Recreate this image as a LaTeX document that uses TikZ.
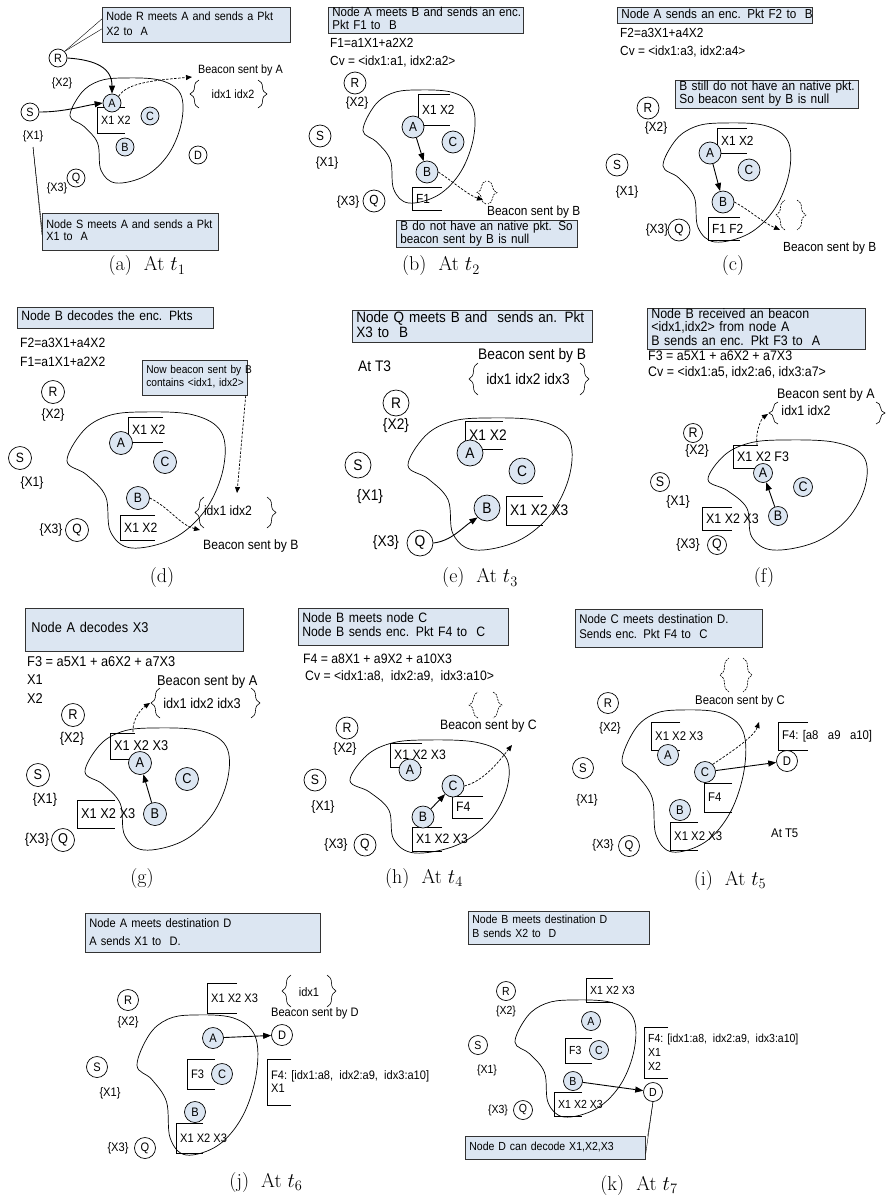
\documentclass[tikz,border=0pt]{standalone}
\usepackage{fontspec}
\newfontfamily\diag[FakeStretch=0.9]{Liberation Sans}
\usetikzlibrary{arrows.meta,decorations.pathreplacing}
\definecolor{noteblue}{RGB}{220,230,242}
\definecolor{nodeblue}{RGB}{220,230,242}
\newcommand\dfont[2]{\diag\fontsize{#1}{#2}\selectfont}
\newcommand\notelines[1]{\begin{tabular}{@{}l@{}}#1\end{tabular}}
% region of the network: x, y, width, height
\newcommand\regionblob[4]{%
  \draw[regionline, shift={(#1,#2)}, xscale=#3, yscale=#4]
    plot[smooth cycle, tension=0.6] coordinates {(0.45,0) (0.78,0.02) (0.96,0.15) (0.97,0.42) (0.86,0.72) (0.66,0.93) (0.40,1) (0.27,0.88) (0.24,0.62) (0.12,0.46) (0,0.36) (0.10,0.14) (0.25,0.03)};}
% packet list: name, x, y top, y bottom, arm, text
\newcommand\pktlist[6]{%
  \draw[bracketline] ({#2+#5},#3) -- (#2,#3) -- (#2,#4) -- ({#2+#5},#4);
  \node[lbl, anchor=west] (#1) at ({#2+4},{(#3+#4)/2}) {#6};}

\begin{document}
\begin{tikzpicture}[x=1pt, y=-1pt,
    pnode/.style={circle, draw, fill=white, inner sep=0pt, minimum size=18pt, line width=0.7pt},
    rnode/.style={pnode, fill=nodeblue},
    lbl/.style={inner sep=0pt, align=left},
    note/.style={draw=black!80, fill=noteblue, anchor=north west, inner xsep=4pt, inner ysep=0pt, align=left, line width=0.7pt},
    link/.style={-{Triangle[length=8pt,width=6pt]}, line width=0.9pt},
    beacon/.style={dash pattern=on 2.5pt off 1.5pt, -{Triangle[length=6pt,width=5pt]}, line width=0.7pt},
    curly/.style={decorate, decoration={brace, amplitude=9pt}, line width=0.6pt},
    emptycurly/.style={curly, dash pattern=on 2pt off 1pt},
    regionline/.style={line width=0.7pt},
    bracketline/.style={line width=0.7pt},
    subcap/.style={font=\fontsize{20}{22}\selectfont}
]
\useasboundingbox[fill=white] (0,0) rectangle (887,1200);

%% (a) At t1
\begin{scope}[font=\dfont{12}{14}, pnode/.append style={minimum size=18pt}]
\regionblob{70}{78}{115}{105}
\pktlist{aPkt}{97}{107}{133}{28}{X1 X2}
\node[pnode] (aR) at (58,58) {R};
\node[lbl] (aRset) at (62,83) {\{X2\}};
\node[pnode] (aS) at (30,112) {S};
\node[lbl] (aSset) at (33,136) {\{X1\}};
\node[rnode] (aA) at (112,103) {A};
\node[rnode] (aC) at (150,116) {C};
\node[rnode] (aB) at (125,147) {B};
\node[pnode] (aD) at (198,155) {D};
\node[pnode] (aQ) at (76,178) {Q};
\node[lbl] (aQset) at (57,188) {\{X3\}};
\node[note, text width=180pt, minimum height=35pt, font=\dfont{12}{15}] (aNote1) at (102,7) {\notelines{Node R meets A and sends a Pkt\\X2 to\ \ A}};
\node[note, text width=168pt, minimum height=37pt, font=\dfont{12}{12}] (aNote2) at (42,213) {\notelines{Node S meets A and sends a Pkt\\X1 to\ \ A}};
\node[lbl, anchor=west] (aBeacon) at (198,70) {Beacon sent by A};
\node[lbl] (aIdx) at (233,94) {idx1 idx2};
\draw[curly] (199,108) -- (199,80);
\draw[curly] (258,80) -- (258,108);
\coordinate (aTip) at (192,77);
\coordinate (aStem) at (33,147);
\draw[link] (aR.east) .. controls +(30,2) and +(0,-25) .. (aA.north);
\draw[link] (aS.east) .. controls +(25,0) and +(-20,3) .. (aA.west);
\draw[beacon] (aA.north east) .. controls +(8,-14) and +(-35,3) .. (aTip);
\draw (aR.north east) -- ([yshift=6pt]aNote1.west);
\draw (aR.north east) -- ([yshift=-4pt]aNote1.west);
\draw (aStem) -- ([yshift=3pt]aNote2.west);
\draw (aStem) -- ([yshift=-3pt]aNote2.west);
\end{scope}

%% (b) At t2
\begin{scope}[font=\dfont{13.2}{14}, pnode/.append style={minimum size=22pt}]
\regionblob{363}{90}{114}{113}
\pktlist{bPkt1}{418}{94}{125}{32}{X1 X2}
\pktlist{bPkt2}{412}{187}{210}{30}{F1}
\node[pnode] (bR) at (355,83) {R};
\node[lbl] (bRset) at (357,103) {\{X2\}};
\node[pnode] (bS) at (320,136) {S};
\node[lbl] (bSset) at (327,163) {\{X1\}};
\node[rnode] (bA) at (413,127) {A};
\node[rnode] (bC) at (453,142) {C};
\node[rnode] (bB) at (427,172) {B};
\node[pnode] (bQ) at (374,201) {Q};
\node[lbl] (bQset) at (348,202) {\{X3\}};
\node[note, text width=187pt, minimum height=26pt, font=\dfont{12.8}{13}] (bNote1) at (328,7) {\notelines{Node A meets B and sends an enc.\\Pkt F1 to\ \ B}};
\node[lbl, anchor=west] (bF1) at (330,43) {F1=a1X1+a2X2};
\node[lbl, anchor=west] (bCv) at (330,62) {Cv = <idx1:a1, idx2:a2>};
\node[note, text width=173pt, minimum height=27pt, font=\dfont{13}{11.5}] (bNote2) at (396,220) {\notelines{B do not have an native pkt. So\\beacon sent by B is null}};
\node[lbl, anchor=west] (bBeacon) at (487,212) {Beacon sent by B};
\draw[emptycurly] (486,204) -- (486,181);
\draw[emptycurly] (488,181) -- (488,204);
\coordinate (bTip) at (483,200);
\draw[link] (bA) -- (bB);
\draw[beacon] (bB.east) .. controls +(15,10) and +(-15,-5) .. (bTip);
\end{scope}

%% (c)
\begin{scope}[font=\dfont{13.2}{14}, pnode/.append style={minimum size=22pt}]
\regionblob{663}{123}{130}{119}
\pktlist{cPkt1}{717}{128}{153}{30}{X1 X2}
\pktlist{cPkt2}{708}{217}{240}{32}{F1 F2}
\node[pnode] (cR) at (648,108) {R};
\node[lbl] (cRset) at (656,128) {\{X2\}};
\node[pnode] (cS) at (617,165) {S};
\node[lbl] (cSset) at (627,192) {\{X1\}};
\node[rnode] (cA) at (710,153) {A};
\node[rnode] (cC) at (749,170) {C};
\node[rnode] (cB) at (723,202) {B};
\node[pnode] (cQ) at (679,230) {Q};
\node[lbl] (cQset) at (657,230) {\{X3\}};
\node[note, text width=187pt, minimum height=16pt, font=\dfont{13}{14}] (cNote1) at (617,7) {\notelines{Node A sends an enc. Pkt F2 to\ \ B}};
\node[lbl, anchor=west] (cF2) at (620,33) {F2=a3X1+a4X2};
\node[lbl, anchor=west] (cCv) at (620,52) {Cv = <idx1:a3, idx2:a4>};
\node[note, text width=175pt, minimum height=28pt, font=\dfont{13.2}{12}] (cNote2) at (675,80) {\notelines{B still do not have an native pkt.\\So beacon sent by B is null}};
\node[lbl, anchor=west] (cBeacon) at (783,248) {Beacon sent by B};
\draw[emptycurly] (785,230) -- (785,200);
\draw[emptycurly] (797,200) -- (797,230);
\coordinate (cTip) at (780,230);
\draw[link] (cA) -- (cB);
\draw[beacon] (cB.east) .. controls +(15,8) and +(-18,-8) .. (cTip);
\end{scope}

%% (d)
\begin{scope}[font=\dfont{13.5}{14}, pnode/.append style={minimum size=23pt}]
\regionblob{67}{412}{161}{136}
\pktlist{dPkt1}{128}{417}{442}{35}{X1 X2}
\pktlist{dPkt2}{120}{515}{540}{35}{X1 X2}
\node[pnode] (dR) at (53,392) {R};
\node[lbl] (dRset) at (53,415) {\{X2\}};
\node[pnode] (dS) at (20,458) {S};
\node[lbl] (dSset) at (32,483) {\{X1\}};
\node[rnode] (dA) at (121,443) {A};
\node[rnode] (dC) at (165,462) {C};
\node[rnode] (dB) at (138,498) {B};
\node[pnode] (dQ) at (77,530) {Q};
\node[lbl] (dQset) at (51,530) {\{X3\}};
\node[note, text width=188pt, minimum height=21pt] (dNote1) at (17,307) {\notelines{Node B decodes the enc. Pkts}};
\node[lbl, anchor=west] (dF2) at (20,343) {F2=a3X1+a4X2};
\node[lbl, anchor=west] (dF1) at (20,362) {F1=a1X1+a2X2};
\node[note, text width=97pt, minimum height=35pt, font=\dfont{11.3}{13}] (dNote2) at (142,360) {\notelines{Now beacon sent by B\\contains <idx1, idx2>}};
\node[lbl] (dIdx) at (228,511) {idx1 idx2};
\draw[curly] (204,528) -- (204,497);
\draw[curly] (267,497) -- (267,528);
\node[lbl, anchor=west] (dBeacon) at (203,546) {Beacon sent by B};
\coordinate (dTip) at (200,530);
\coordinate (dIn) at (237,493);
\draw[beacon] (dB.east) .. controls +(20,10) and +(-20,-5) .. (dTip);
\draw[beacon] ([xshift=-2pt]dNote2.south east) -- (dIn);
\end{scope}

%% (e) At t3
\begin{scope}[font=\dfont{15.3}{15}, pnode/.append style={minimum size=26pt}]
\regionblob{408}{418}{167}{132}
\pktlist{ePkt1}{465}{421}{449}{38}{X1 X2}
\pktlist{ePkt2}{506}{496}{525}{37}{X1 X2 X3}
\node[pnode] (eR) at (396,403) {R};
\node[lbl] (eRset) at (396,426) {\{X2\}};
\node[pnode] (eS) at (358,465) {S};
\node[lbl] (eSset) at (370,497) {\{X1\}};
\node[rnode] (eA) at (470,453) {A};
\node[rnode] (eC) at (522,471) {C};
\node[rnode] (eB) at (487,508) {B};
\node[pnode] (eQ) at (420,543) {Q};
\node[lbl] (eQset) at (386,543) {\{X3\}};
\node[note, text width=232pt, minimum height=32pt, font=\dfont{15}{15}] (eNote) at (352,310) {\notelines{Node Q meets B and\ \ sends an. Pkt\\X3 to\ \ B}};
\node[lbl, anchor=west] (eT3) at (358,366) {At T3};
\node[lbl, anchor=west] (eBeacon) at (478,356) {Beacon sent by B};
\node[lbl] (eIdx) at (528,379) {idx1 idx2 idx3};
\draw[curly] (478,395) -- (478,363);
\draw[curly] (580,363) -- (580,395);
\draw[link] (eQ.east) .. controls +(18,-2) and +(-15,10) .. (eB.south west);
\end{scope}

%% (f)
\begin{scope}[font=\dfont{13.8}{14}, pnode/.append style={minimum size=19pt}]
\regionblob{708}{440}{162}{110}
\pktlist{fPkt1}{733}{445}{468}{25}{X1 X2 F3}
\pktlist{fPkt2}{702}{507}{530}{30}{X1 X2 X3}
\node[pnode] (fR) at (693,433) {R};
\node[lbl] (fRset) at (697,451) {\{X2\}};
\node[pnode] (fS) at (660,482) {S};
\node[lbl] (fSset) at (678,502) {\{X1\}};
\node[rnode] (fA) at (763,473) {A};
\node[rnode] (fC) at (803,487) {C};
\node[rnode] (fB) at (778,516) {B};
\node[pnode] (fQ) at (717,545) {Q};
\node[lbl] (fQset) at (688,545) {\{X3\}};
\node[note, text width=210pt, minimum height=39pt, font=\dfont{13.8}{12}] (fNote) at (647,308) {\notelines{Node B received an beacon\\<idx1,idx2> from node A\\B sends an enc. Pkt F3 to\ \ A}};
\node[lbl, anchor=west] (fF3) at (648,356) {F3 = a5X1 + a6X2 + a7X3};
\node[lbl, anchor=west] (fCv) at (648,372) {Cv = <idx1:a5, idx2:a6, idx3:a7>};
\node[lbl, anchor=west] (fBeacon) at (777,395) {Beacon sent by A};
\node[lbl] (fIdx) at (806,411) {idx1 idx2};
\draw[curly] (778,424) -- (778,402);
\draw[curly] (876,402) -- (876,424);
\coordinate (fFrom) at (757,445);
\coordinate (fTip) at (768,414);
\draw[beacon] (fFrom) .. controls +(-2,-14) and +(-6,4) .. (fTip);
\draw[link] (fB) -- (fA);
\end{scope}

%% (g)
\begin{scope}[font=\dfont{14.2}{14}, pnode/.append style={minimum size=23pt}]
\regionblob{85}{728}{147}{122}
\pktlist{gPkt1}{110}{733}{759}{25}{X1 X2 X3}
\pktlist{gPkt2}{77}{800}{828}{38}{X1 X2 X3}
\node[pnode] (gR) at (73,715) {R};
\node[lbl] (gRset) at (72,739) {\{X2\}};
\node[pnode] (gS) at (38,775) {S};
\node[lbl] (gSset) at (45,800) {\{X1\}};
\node[rnode] (gA) at (140,763) {A};
\node[rnode] (gC) at (187,779) {C};
\node[rnode] (gB) at (155,814) {B};
\node[pnode] (gQ) at (63,840) {Q};
\node[lbl] (gQset) at (37,840) {\{X3\}};
\node[note, text width=206pt, minimum height=43pt, inner xsep=6pt] (gNote) at (25,608) {\notelines{Node A decodes X3}};
\node[lbl, anchor=west] (gF3) at (27,662) {F3 = a5X1 + a6X2 + a7X3};
\node[lbl, anchor=west] (gDec1) at (27,680) {X1};
\node[lbl, anchor=west] (gDec2) at (27,699) {X2};
\node[lbl, anchor=west] (gBeacon) at (157,682) {Beacon sent by A};
\node[lbl] (gIdx) at (202,703) {idx1 idx2 idx3};
\draw[curly] (160,718) -- (160,688);
\draw[curly] (251,688) -- (251,718);
\coordinate (gFrom) at (133,732);
\coordinate (gTip) at (150,703);
\draw[beacon] (gFrom) .. controls +(-1,-15) and +(-6,4) .. (gTip);
\draw[link] (gB) -- (gA);
\end{scope}

%% (h) At t4
\begin{scope}[font=\dfont{13.6}{14}, pnode/.append style={minimum size=22pt}]
\regionblob{350}{740}{162}{113}
\pktlist{hPkt1}{390}{743}{767}{32}{X1 X2 X3}
\pktlist{hPkt2}{452}{796}{818}{31}{F4}
\pktlist{hPkt3}{412}{827}{851}{30}{X1 X2 X3}
\node[pnode] (hR) at (347,728) {R};
\node[lbl] (hRset) at (345,749) {\{X2\}};
\node[pnode] (hS) at (315,780) {S};
\node[lbl] (hSset) at (323,807) {\{X1\}};
\node[rnode] (hA) at (410,770) {A};
\node[rnode] (hC) at (453,786) {C};
\node[rnode] (hB) at (423,817) {B};
\node[pnode] (hQ) at (365,845) {Q};
\node[lbl] (hQset) at (336,845) {\{X3\}};
\node[note, text width=202pt, minimum height=37pt] (hNote) at (298,608) {\notelines{Node B meets node C\\Node B sends enc. Pkt F4 to\ \ C}};
\node[lbl, anchor=west] (hF4) at (303,659) {F4 = a8X1 + a9X2 + a10X3};
\node[lbl, anchor=west] (hCv) at (305,676) {Cv = <idx1:a8,\ \ idx2:a9,\ \ idx3:a10>};
\node[lbl, anchor=west] (hBeacon) at (440,726) {Beacon sent by C};
\draw[emptycurly] (478,718) -- (478,692);
\draw[emptycurly] (493,692) -- (493,718);
\coordinate (hTip) at (512,745);
\draw[link] (hB) -- (hC);
\draw[beacon] (hC.east) .. controls +(20,-5) and +(-12,15) .. (hTip);
\end{scope}

%% (i) At t5
\begin{scope}[font=\dfont{12.6}{15}, pnode/.append style={minimum size=21pt}]
\regionblob{622}{710}{126}{142}
\pktlist{iPkt1}{651}{722}{750}{29}{X1 X2 X3}
\pktlist{iPkt2}{778}{722}{750}{30}{F4: [a8\ \ \ a9\ \ \ a10]}
\pktlist{iPkt3}{704}{783}{812}{28}{F4}
\pktlist{iPkt4}{670}{822}{850}{28}{X1 X2 X3}
\node[pnode] (iR) at (608,703) {R};
\node[lbl] (iRset) at (610,728) {\{X2\}};
\node[pnode] (iS) at (583,768) {S};
\node[lbl] (iSset) at (587,800) {\{X1\}};
\node[rnode] (iA) at (668,755) {A};
\node[rnode] (iC) at (705,772) {C};
\node[pnode] (iD) at (787,761) {D};
\node[rnode] (iB) at (680,810) {B};
\node[pnode] (iQ) at (629,846) {Q};
\node[lbl] (iQset) at (603,845) {\{X3\}};
\node[note, text width=179pt, minimum height=38pt] (iNote) at (575,609) {\notelines{Node C meets destination D.\\Sends enc. Pkt F4 to\ \ C}};
\node[lbl, anchor=west] (iBeacon) at (695,701) {Beacon sent by C};
\draw[emptycurly] (729,692) -- (729,658);
\draw[emptycurly] (743,658) -- (743,692);
\node[lbl, anchor=west] (iT5) at (771,833) {At T5};
\coordinate (iTip) at (759,722);
\draw[link] (iC) -- (iD);
\draw[beacon] (iC.north east) .. controls +(15,-10) and +(-5,15) .. (iTip);
\end{scope}

%% (j) At t6
\begin{scope}[font=\dfont{12.3}{13}, pnode/.append style={minimum size=21pt}]
\regionblob{137}{1015}{123}{140}
\pktlist{jPkt1}{207}{983}{1013}{30}{X1 X2 X3}
\pktlist{jPkt2}{187}{1059}{1089}{28}{F3}
\pktlist{jPkt3}{267}{1059}{1105}{24}{F4: [idx1:a8,\ \ idx2:a9,\ \ idx3:a10]\\X1}
\pktlist{jPkt4}{176}{1123}{1153}{27}{X1 X2 X3}
\node[pnode] (jR) at (128,1000) {R};
\node[lbl] (jRset) at (128,1022) {\{X2\}};
\node[pnode] (jS) at (97,1067) {S};
\node[lbl] (jSset) at (110,1093) {\{X1\}};
\node[rnode] (jA) at (213,1038) {A};
\node[pnode] (jD) at (282,1035) {D};
\node[rnode] (jC) at (222,1074) {C};
\node[rnode] (jB) at (195,1112) {B};
\node[pnode] (jQ) at (145,1148) {Q};
\node[lbl] (jQset) at (118,1148) {\{X3\}};
\node[note, text width=227pt, minimum height=39pt, font=\dfont{12.3}{18}] (jNote) at (85,913) {\notelines{Node A meets destination D\\A sends X1 to\ \ D.}};
\node[lbl] (jIdx) at (309,992) {idx1};
\draw[curly] (291,1007) -- (291,975);
\draw[curly] (327,975) -- (327,1007);
\node[lbl, anchor=west] (jBeacon) at (271,1013) {Beacon sent by D};
\draw[link] (jA) -- (jD);
\end{scope}

%% (k) At t7
\begin{scope}[font=\dfont{11.7}{14}, pnode/.append style={minimum size=19pt}]
\regionblob{515}{1000}{123}{117}
\pktlist{kPkt1}{586}{978}{1002}{27}{X1 X2 X3}
\pktlist{kPkt2}{565}{1038}{1063}{27}{F3}
\pktlist{kPkt3}{644}{1027}{1078}{24}{F4: [idx1:a8,\ \ idx2:a9,\ \ idx3:a10]\\X1\\X2}
\pktlist{kPkt4}{554}{1092}{1116}{28}{X1 X2 X3}
\node[pnode] (kR) at (506,991) {R};
\node[lbl] (kRset) at (506,1011) {\{X2\}};
\node[pnode] (kS) at (478,1045) {S};
\node[lbl] (kSset) at (487,1070) {\{X1\}};
\node[rnode] (kA) at (591,1021) {A};
\node[rnode] (kC) at (599,1050) {C};
\node[rnode] (kB) at (573,1081) {B};
\node[pnode] (kD) at (653,1092) {D};
\node[pnode] (kQ) at (523,1110) {Q};
\node[lbl] (kQset) at (498,1110) {\{X3\}};
\node[note, text width=173pt, minimum height=33pt] (kNote1) at (468,911) {\notelines{Node B meets destination D\\B sends X2 to\ \ D}};
\node[note, text width=172pt, minimum height=23pt] (kNote2) at (465,1136) {\notelines{Node D can decode X1,X2,X3}};
\draw[link] (kB) -- (kD);
\draw (kD.south) -- ([xshift=2pt]kNote2.north east);
\draw (kD.south) -- ([yshift=-6pt]kNote2.east);
\end{scope}

%% captions
\node[subcap] (capA) at (147,266) {(a)\hspace{0.6em}At $t_1$};
\node[subcap] (capB) at (441,266) {(b)\hspace{0.6em}At $t_2$};
\node[subcap] (capC) at (733,266) {(c)};
\node[subcap] (capD) at (162,578) {(d)};
\node[subcap] (capE) at (480,578) {(e)\hspace{0.6em}At $t_3$};
\node[subcap] (capF) at (764,578) {(f)};
\node[subcap] (capG) at (142,878) {(g)};
\node[subcap] (capH) at (424,878) {(h)\hspace{0.6em}At $t_4$};
\node[subcap] (capI) at (730,880) {(i)\hspace{0.6em}At $t_5$};
\node[subcap] (capJ) at (266,1182) {(j)\hspace{0.6em}At $t_6$};
\node[subcap] (capK) at (639,1185) {(k)\hspace{0.6em}At $t_7$};
\end{tikzpicture}
\end{document}
